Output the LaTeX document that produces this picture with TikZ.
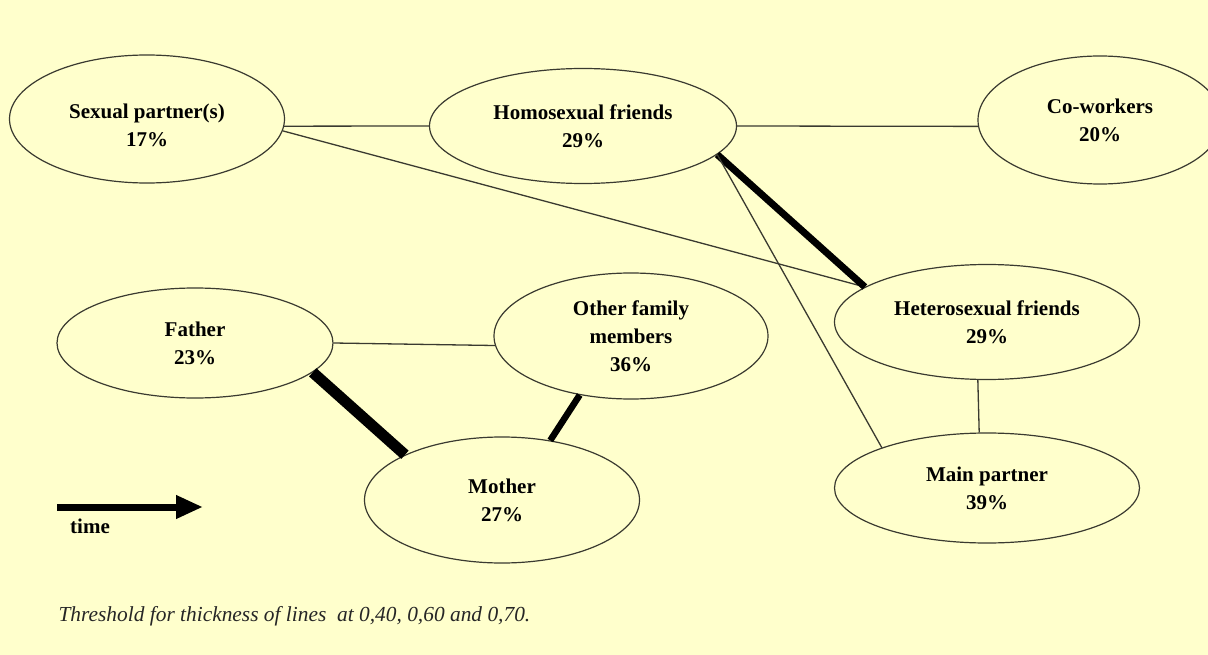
\documentclass[tikz,border=0pt]{standalone}
\usepackage{fontspec}
\setmainfont{Liberation Serif}
\usetikzlibrary{shapes.geometric,arrows.meta}
\definecolor{bg}{HTML}{FFFFCC}
\definecolor{edge}{HTML}{3A3A30}
\tikzset{
  person/.style={ellipse, draw=edge, line width=1.2pt, inner sep=0pt, align=center,
    font=\fontsize{21}{28}\selectfont\bfseries, text=black},
  thin link/.style={draw=edge, line width=1.3pt},
  mid link/.style={draw=black, line width=6.5pt},
  thick link/.style={draw=black, line width=11pt},
}
\begin{document}
\begin{tikzpicture}[x=1pt,y=-1pt]
\fill[bg] (0,0) rectangle (1208,655);
\clip (0,0) rectangle (1208,655);
\useasboundingbox (0,0) rectangle (1208,655);

\node[person, minimum width=275pt, minimum height=128pt,
  label={[align=center, font=\fontsize{21}{28}\selectfont\bfseries, yshift=-6pt]center:Sexual partner(s)\\17\%}] (sp) at (147,119) {};
\node[person, minimum width=307pt, minimum height=115pt] (hf) at (583,126) {Homosexual friends\\29\%};
\node[person, minimum width=244pt, minimum height=128pt] (cw) at (1100,120) {Co-workers\\20\%};
\node[person, minimum width=305pt, minimum height=115pt] (het) at (987,322) {Heterosexual friends\\29\%};
\node[person, minimum width=305pt, minimum height=110pt] (mp) at (987,488) {Main partner\\39\%};
\node[person, minimum width=276pt, minimum height=110pt] (fa) at (195,343) {Father\\23\%};
\node[person, minimum width=274pt, minimum height=126pt] (ofm) at (631,336) {Other family\\members\\36\%};
\node[person, minimum width=275pt, minimum height=126pt] (mo) at (502,500) {Mother\\27\%};

% connectors
\draw[thin link] (sp.-3.8) -- (hf.west);
\draw[thin link] (hf.east) -- (cw.183.8);
\draw[thin link] (sp.-5) -- (het.164);
\draw[thick link, line width=7pt] (hf.-12.2) -- (het.164);
\draw[thin link] (hf.-12.2) -- (mp.159.5);
\draw[thin link] (het.261) -- (mp.98);
\draw[thin link] (fa.east) -- (ofm.184);
\draw[thick link] (fa.-14.3) -- (mo.155.7);
\draw[mid link] (ofm.229.6) -- (mo.51);

% time arrow
\coordinate (t0) at (57,507);
\coordinate (t1) at (203,507);
\draw[line width=7pt, -{Triangle[length=27pt,width=22pt]}] (t0) -- (t1);
\node[font=\fontsize{21}{28}\selectfont\bfseries, anchor=base] (time) at (90,533) {time};

\node[font=\fontsize{21.4}{26}\selectfont\itshape, text=black!85, anchor=base west] (note) at (55,621) {Threshold for thickness of lines~ at 0,40, 0,60 and 0,70.};
\end{tikzpicture}
\end{document}
